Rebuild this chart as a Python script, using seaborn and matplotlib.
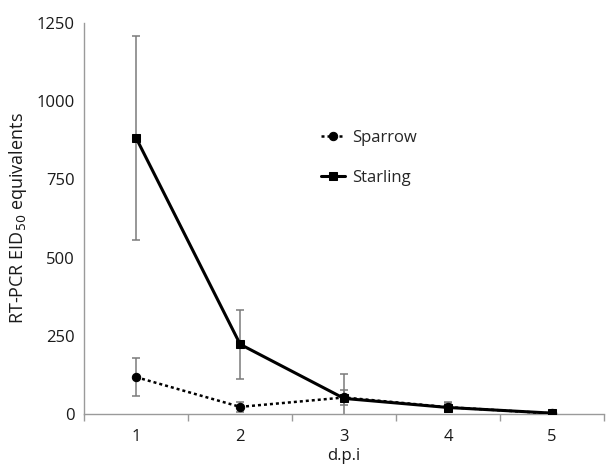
import pandas as pd
import matplotlib
matplotlib.use("Agg")
import matplotlib.pyplot as plt
import seaborn as sns

# values
days = [1, 2, 3, 4, 5]
sparrow_mean = [118, 23, 53, 22, 2]
sparrow_err = [60, 16, 25, 15, 3]
starling_mean = [882, 223, 50, 21, 3]
starling_err = [325, 110, 78, 15, 4]

sns.set_style("white")
plt.rcParams['font.family'] = ['Open Sans', 'DejaVu Sans']

df = pd.DataFrame({
    'dpi': days * 2,
    'value': sparrow_mean + starling_mean,
    'bird': ['Sparrow'] * 5 + ['Starling'] * 5,
})

fig = plt.figure(figsize=(6.15, 4.7), dpi=100)
ax = fig.add_axes([0.137, 0.119, 0.845, 0.832])

# error bars first so the lines sit on top
ax.errorbar(days, sparrow_mean, yerr=sparrow_err, fmt='none', ecolor='#7a7a7a',
            elinewidth=1.1, capsize=3, capthick=1.1, zorder=1)
ax.errorbar(days, starling_mean, yerr=starling_err, fmt='none', ecolor='#7a7a7a',
            elinewidth=1.1, capsize=3, capthick=1.1, zorder=1)

sns.lineplot(data=df[df.bird == 'Sparrow'], x='dpi', y='value', ax=ax,
             color='black', linestyle=(0, (1.2, 1.2)), linewidth=1.8,
             marker='o', markersize=6, markeredgecolor='black',
             label='Sparrow', zorder=3)
sns.lineplot(data=df[df.bird == 'Starling'], x='dpi', y='value', ax=ax,
             color='black', linestyle='-', linewidth=2.2,
             marker='s', markersize=6.3, markeredgecolor='black',
             label='Starling', zorder=3)

ax.set_xlim(0.5, 5.5)
ax.set_ylim(0, 1250)
ax.set_xticks(days)
ax.set_xticks([0.5, 1.5, 2.5, 3.5, 4.5, 5.5], minor=True)
ax.set_yticks([0, 250, 500, 750, 1000, 1250])
ax.tick_params(axis='x', which='major', length=0, pad=11, labelsize=12, labelcolor='#1a1a1a')
ax.tick_params(axis='x', which='minor', length=5, width=1, color='#9a9a9a', direction='out')
ax.tick_params(axis='y', length=4, width=1, color='#9a9a9a', direction='out', labelsize=12,
               pad=3, labelcolor='#1a1a1a')
ax.xaxis.set_tick_params(bottom=True, which='minor')

for s in ['top', 'right']:
    ax.spines[s].set_visible(False)
for s in ['left', 'bottom']:
    ax.spines[s].set_color('#9a9a9a')
    ax.spines[s].set_linewidth(1)

ax.set_xlabel('d.p.i', fontsize=12, labelpad=2, color='#1a1a1a')
ax.set_ylabel('RT-PCR EID$_{50}$ equivalents', fontsize=13, labelpad=5, color='#1a1a1a')

leg = ax.legend(loc='upper left', bbox_to_anchor=(0.427, 0.765), frameon=False,
                fontsize=12, handlelength=1.45, handletextpad=0.4, labelspacing=1.45)

fig.savefig('out.png', dpi=100)
